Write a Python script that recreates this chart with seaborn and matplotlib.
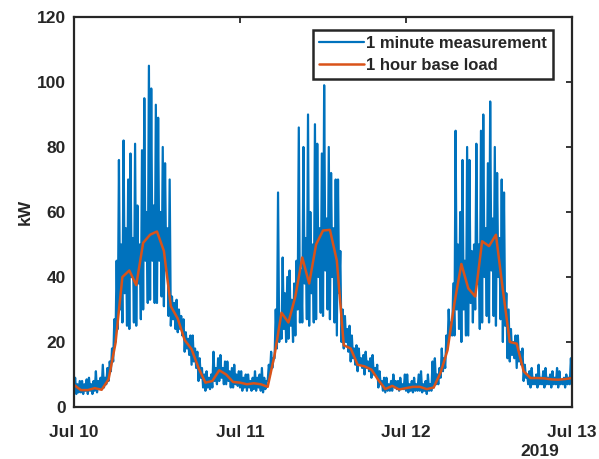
import numpy as np
import pandas as pd
import matplotlib
matplotlib.use("Agg")
import matplotlib.pyplot as plt
import matplotlib.dates as mdates
import seaborn as sns

# 1-minute measurement, read at 10-minute resolution (kW), Jul 10 00:00 -> Jul 13 00:00
meas_day1 = [5, 9, 4, 7, 4.5, 8,        4.5, 8, 4, 7, 5, 8.5,      4, 9, 5, 7, 4, 8,
             5, 11, 4.5, 8, 6, 9,       5.5, 13, 6, 9, 7, 12,      8, 14, 11, 18, 14, 27,
             20, 45, 24, 76, 30, 50,    26, 82, 35, 55, 25, 70,    24, 78, 40, 52, 26, 81,
             25, 62, 38, 50, 27, 79,    30, 95, 45, 60, 32, 105,   33, 98, 45, 62, 32, 93,
             32, 89, 45, 60, 34, 80,    31, 75, 42, 55, 28, 70,    25, 34, 27, 32, 24, 33,
             23, 30, 24, 28, 22, 27,    17, 23, 18, 21, 16, 22,    13, 22, 14, 18, 12, 17,
             8, 15, 9, 12, 6, 10,       5, 11, 6, 9, 5.5, 10,      6, 17, 8, 12, 7, 15,
             8, 16, 9, 12, 7, 14,       7, 14, 8, 11, 6, 12,       6, 13, 7, 10, 6.5, 11]
meas_day2 = [6, 11, 5, 9, 6, 10,        5, 10, 6, 8, 5, 9,         5.5, 11, 5, 9, 6, 10,
             5, 12, 4.5, 9, 5.5, 8,     8, 13, 10, 17, 12, 15,     15, 30, 18, 66, 20, 28,
             21, 46, 24, 35, 20, 40,    21, 42, 25, 33, 20, 38,    22, 45, 30, 86, 26, 42,
             26, 80, 38, 52, 27, 90,    25, 60, 35, 50, 26, 87,    27, 81, 40, 55, 29, 78,
             28, 99, 42, 58, 30, 80,    27, 72, 40, 55, 26, 70,    22, 70, 35, 48, 20, 30,
             18, 28, 20, 24, 17, 25,    14, 22, 15, 18, 13, 19,    11, 18, 13, 15, 12, 16,
             10, 17, 12, 14, 11, 15,    9, 16, 10, 12, 10, 13,     6, 11, 7, 8, 5, 9,
             4.5, 9, 5, 7, 5, 8,        5, 10, 6, 8, 5.5, 8,       5, 9, 6, 7, 5.5, 10]
meas_day3 = [5, 10, 4.5, 7, 5, 8,       4.5, 9, 5, 7, 5, 10,       5, 11, 4.5, 7, 5, 8,
             4, 10, 5, 7, 5, 14,        6, 15, 7, 10, 7, 12,       9, 18, 11, 15, 12, 22,
             18, 30, 22, 26, 22, 38,    22, 85, 30, 50, 24, 60,    20, 76, 30, 45, 22, 80,
             22, 76, 32, 48, 26, 50,    30, 81, 38, 50, 24, 85,    26, 90, 40, 55, 28, 75,
             26, 94, 42, 58, 28, 80,    25, 72, 40, 52, 27, 70,    20, 66, 25, 35, 15, 30,
             14, 24, 16, 20, 15, 22,    12, 22, 14, 17, 13, 18,    8, 13, 9, 10, 7, 11,
             6, 12, 7, 9, 7, 10,        6, 13, 7, 9, 7, 11,        6, 12, 7, 9, 7, 10,
             6, 11, 7, 9, 7, 12,        6, 11, 7, 8, 7, 9,         6, 10, 7, 9, 7, 15,
             8]

# 1-hour base load, hourly values (kW)
base_load = [6.8, 5.2, 5.2, 5.8, 5.3, 8.5, 19.6, 40, 42, 37.5, 50.5, 53, 54, 48,
             31, 27.2, 20.6, 17.8, 12, 7.5, 8, 11.3, 10, 7.7,
             7.5, 7, 7.3, 7, 6.2, 16, 29, 26, 34, 46, 38, 50, 54.3, 54.5,
             45, 19, 18, 13, 12.5, 11.5, 8.3, 5.5, 6.5, 5.4,
             5.8, 6.2, 6.2, 5.5, 6, 10.6, 17.5, 32, 44, 36.5, 34, 51, 49.5, 53,
             36, 20, 19.5, 11, 8.9, 8.9, 8.8, 8.5, 8.4, 8.6, 8.9]

series_labels = ["1 minute measurement", "1 hour base load"]
y_ticks = [0, 20, 40, 60, 80, 100, 120]

meas = meas_day1 + meas_day2 + meas_day3
t_meas = pd.date_range("2019-07-10 00:00", periods=len(meas), freq="10min")
t_base = pd.date_range("2019-07-10 00:00", periods=len(base_load), freq="1h")

df_meas = pd.DataFrame({"time": t_meas, "kW": meas})
df_base = pd.DataFrame({"time": t_base, "kW": base_load})

sns.set_style("white")
plt.rcParams["font.family"] = ["Liberation Sans", "DejaVu Sans"]
plt.rcParams["font.weight"] = "bold"

fig = plt.figure(figsize=(5.99, 4.59), dpi=100)
ax = fig.add_axes([0.1235, 0.1133, 0.8315, 0.8497])

sns.lineplot(data=df_meas, x="time", y="kW", ax=ax, color="#0072BD",
             linewidth=1.6, estimator=None, sort=False, label=series_labels[0])
sns.lineplot(data=df_base, x="time", y="kW", ax=ax, color="#D95319",
             linewidth=1.8, estimator=None, sort=False, label=series_labels[1])

ax.set_xlim(pd.Timestamp("2019-07-10"), pd.Timestamp("2019-07-13"))
ax.set_ylim(0, 120)
ax.set_yticks(y_ticks)
ax.xaxis.set_major_locator(mdates.DayLocator())
ax.xaxis.set_major_formatter(mdates.DateFormatter("%b %d"))
ax.set_xlabel("")
ax.set_ylabel("kW", fontsize=12.5, fontweight="bold", labelpad=3)

for s in ax.spines.values():
    s.set_visible(True)
    s.set_color("#262626")
    s.set_linewidth(1.6)
ax.tick_params(axis="both", which="both", direction="in", length=4, width=1.3,
               top=True, right=True, labelsize=12.5, colors="#262626",
               labelcolor="#262626")
ax.tick_params(axis="x", pad=13)
ax.tick_params(axis="y", pad=6)
for lab in ax.get_xticklabels() + ax.get_yticklabels():
    lab.set_fontweight("bold")

leg = ax.legend(loc="upper right", bbox_to_anchor=(0.962, 0.967), fontsize=12,
                frameon=True, fancybox=False, framealpha=1, edgecolor="#262626",
                handlelength=2.7, handletextpad=0.15, borderpad=0.35,
                labelspacing=0.45, borderaxespad=0)
leg.get_frame().set_linewidth(1.8)
for txt in leg.get_texts():
    txt.set_fontweight("bold")
    txt.set_color("#262626")

ax.text(0.936, -0.115, "2019", transform=ax.transAxes, ha="center", va="center",
        fontsize=12.5, fontweight="bold", color="#262626")

fig.savefig("out.png", dpi=100, facecolor="white")
